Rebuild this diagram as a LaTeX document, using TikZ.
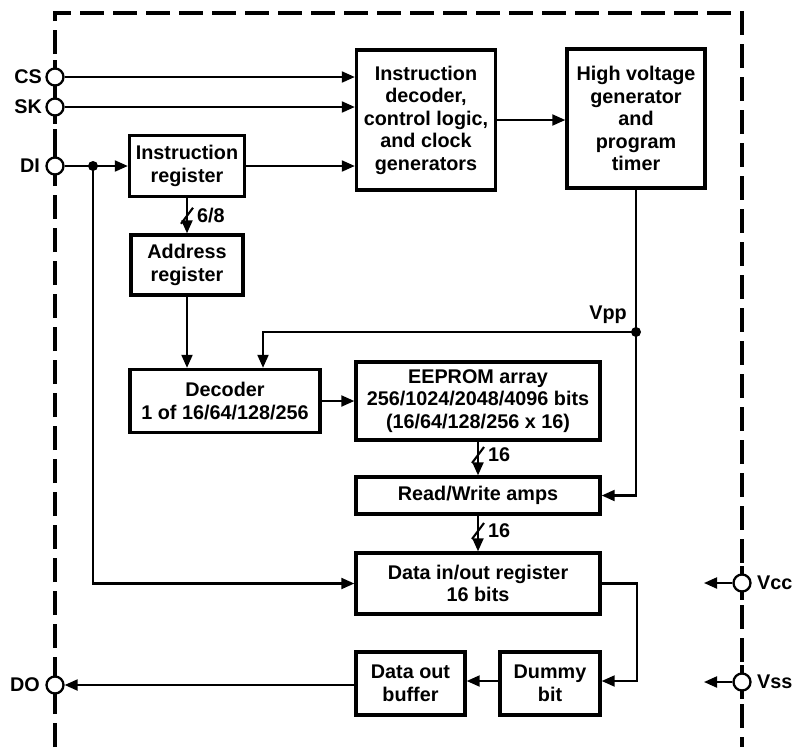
\documentclass[tikz,border=0pt]{standalone}
\usepackage{fontspec}
\setmainfont{Liberation Sans}
\usetikzlibrary{arrows.meta,calc}
\begin{document}
\begin{tikzpicture}[x=1pt,y=-1pt,
 box/.style={draw,line width=3.4pt,inner sep=0pt,align=center,font=\fontsize{19.8}{22.5}\selectfont\bfseries},
 conn/.style={line width=2.1pt,-{Triangle[length=13pt,width=11pt]}},
 wire/.style={line width=2.1pt},
 pin/.style={circle,draw,fill=white,line width=2.3pt,minimum size=17pt,inner sep=0pt},
 lbl/.style={font=\fontsize{19.8}{22.5}\selectfont\bfseries,inner sep=0pt},
 dot/.style={circle,fill,minimum size=10pt,inner sep=0pt},
 border/.style={line width=4pt,dash pattern=on 24pt off 9pt},
 stub/.style={line width=4pt}
]
\useasboundingbox (0,0) rectangle (799,747);
% chip outline
\draw[border] (55,747) -- (55,13) -- (742,13) -- (742,747);
\foreach \y in {77,107,166,685} {\draw[stub] (55,\y-17) -- (55,\y+17);}
\foreach \y in {583,682} {\draw[stub] (742,\y-17) -- (742,\y+17);}
\draw[stub] (55,77) -- (55,107);
% pins
\node[pin] (cs) at (55,77) {};
\node[pin] (sk) at (55,107) {};
\node[pin] (di) at (55,166) {};
\node[pin] (do) at (55,685) {};
\node[pin] (vcc) at (742,583) {};
\node[pin] (vss) at (742,682) {};
\node[lbl,anchor=east] (lcs) at (42,77) {CS};
\node[lbl,anchor=east] (lsk) at (42,107) {SK};
\node[lbl,anchor=east] (ldi) at (40,166) {DI};
\node[lbl,anchor=east] (ldo) at (40,685) {DO};
\node[lbl,anchor=west] (lvcc) at (757,583) {Vcc};
\node[lbl,anchor=west] (lvss) at (757,682) {Vss};
% boxes
\node[box,minimum width=115pt,minimum height=61pt] (ir) at (187,166) {Instruction\\register};
\node[box,minimum width=112pt,minimum height=60pt] (ar) at (187,265) {Address\\register};
\node[box,minimum width=139pt,minimum height=140pt] (id) at (426,120) {Instruction\\decoder,\\control logic,\\and clock\\generators};
\node[box,minimum width=138pt,minimum height=139pt] (hv) at (636,118.5) {High voltage\\generator\\and\\program\\timer};
\node[box,minimum width=190pt,minimum height=63pt] (dec) at (225,401) {Decoder\\1 of 16/64/128/256};
\node[box,minimum width=244pt,minimum height=78pt] (ee) at (478,401) {EEPROM array\\256/1024/2048/4096 bits\\(16/64/128/256 x 16)};
\node[box,minimum width=244pt,minimum height=37pt] (rw) at (478,495.5) {Read/Write amps};
\node[box,minimum width=244pt,minimum height=61pt] (dio) at (478,583.5) {Data in/out register\\16 bits};
\node[box,minimum width=109pt,minimum height=63pt] (dob) at (410.5,683.5) {Data out\\buffer};
\node[box,minimum width=100pt,minimum height=63pt] (dum) at (550,683.5) {Dummy\\bit};
% connectors
\draw[conn] (cs) -- (cs -| id.west);
\draw[conn] (sk) -- (sk -| id.west);
\draw[conn] (ir.east) -- (ir.east -| id.west);
\coordinate (j1) at (93,166);
\draw[conn] (di) -- (ir.west);
\draw[conn] (j1) -- (j1 |- dio.west) -- (dio.west);
\node[dot] (j1d) at (j1) {};
\draw[conn] (ir.south) -- (ar.north);
\coordinate (s1) at ($(ir.south)!0.5!(ar.north)$);
\draw[wire] ($(s1)+(-6,8)$) -- ($(s1)+(6,-8)$);
\node[lbl,anchor=west] (l68) at ($(s1)+(10,0)$) {6/8};
\draw[conn] (ar.south) -- (ar.south |- dec.north);
\draw[conn] (id.east) -- (id.east -| hv.west);
\coordinate (vpp) at (636,332);
\draw[wire] (hv.south) -- (vpp);
\coordinate (c1) at (263,332);
\draw[conn] (vpp) -- (c1) -- (c1 |- dec.north);
\draw[conn] (vpp) -- (vpp |- rw.east) -- (rw.east);
\node[dot] (vppd) at (vpp) {};
\node[lbl] (lvpp) at (608,315) {Vpp};
\draw[conn] (dec.east) -- (dec.east -| ee.west);
\draw[conn] (ee.south) -- (rw.north);
\coordinate (s2) at (478,455);
\draw[wire] ($(s2)+(-6,8)$) -- ($(s2)+(6,-8)$);
\node[lbl,anchor=west] (l16a) at ($(s2)+(10,0)$) {16};
\draw[conn] (rw.south) -- (dio.north);
\coordinate (s3) at (478,531);
\draw[wire] ($(s3)+(-6,8)$) -- ($(s3)+(6,-8)$);
\node[lbl,anchor=west] (l16b) at ($(s3)+(10,0)$) {16};
\coordinate (c3) at (637,681);
\draw[conn] (dio.east) -- (dio.east -| c3) -- (c3) -- (c3 -| dum.east);
\draw[conn] (dum.west |- c3) -- (c3 -| dob.east);
\draw[conn] (dob.west |- do) -- (do.east);
\coordinate (vcce) at (704,583);
\coordinate (vsse) at (704,682);
\draw[conn] (vcc) -- (vcce);
\draw[conn] (vss) -- (vsse);
\end{tikzpicture}
\end{document}
